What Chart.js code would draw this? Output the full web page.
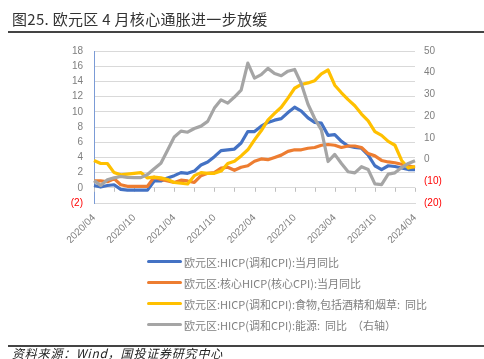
<!DOCTYPE html>
<html><head><meta charset="utf-8">
<script src="https://cdn.jsdelivr.net/npm/chart.js@4.4.0/dist/chart.umd.min.js"></script>
<style>
html,body{margin:0;padding:0;background:#fff;}
#wrap{position:relative;width:484px;height:359px;overflow:hidden;font-family:"Noto Sans CJK SC","Noto Sans",sans-serif;background:#fff;}
#c{position:absolute;left:0;top:0;}
#title{position:absolute;left:12px;top:8px;font-size:15px;color:#333;letter-spacing:0.3px;white-space:pre;line-height:22px;}
#tline{position:absolute;left:8px;right:0;top:31px;height:2px;background:#444;}
#legend{position:absolute;left:147px;top:251px;}
.li{display:flex;align-items:center;height:21px;font-size:11px;color:#7f7f7f;white-space:pre;}
.sw{width:35px;height:3px;border-radius:2px;margin-right:2px;flex:none;}
#fline{position:absolute;left:8px;right:0;top:345px;height:2px;background:#444;}
#foot{position:absolute;left:12px;top:346px;font-size:12px;font-style:italic;color:#222;letter-spacing:0.8px;white-space:nowrap;line-height:14px;}
</style>
</head><body>
<div id="wrap">
<canvas id="c" width="484" height="359"></canvas>
<div id="title">图25. 欧元区 4 月核心通胀进一步放缓</div>
<div id="tline"></div>
<div id="legend"></div>
<div id="fline"></div>
<div id="foot">资料来源：Wind，国投证券研究中心</div>
</div>
<script>
const months = ["2020/04","2020/05","2020/06","2020/07","2020/08","2020/09","2020/10","2020/11","2020/12",
"2021/01","2021/02","2021/03","2021/04","2021/05","2021/06","2021/07","2021/08","2021/09","2021/10","2021/11","2021/12",
"2022/01","2022/02","2022/03","2022/04","2022/05","2022/06","2022/07","2022/08","2022/09","2022/10","2022/11","2022/12",
"2023/01","2023/02","2023/03","2023/04","2023/05","2023/06","2023/07","2023/08","2023/09","2023/10","2023/11","2023/12",
"2024/01","2024/02","2024/03","2024/04"];

const headline = [0.3,0.1,0.3,0.4,-0.2,-0.3,-0.3,-0.3,-0.3,
0.9,0.9,1.3,1.6,2.0,1.9,2.2,3.0,3.4,4.1,4.9,5.0,
5.1,5.9,7.4,7.4,8.1,8.6,8.9,9.1,9.9,10.6,10.1,9.2,
8.6,8.5,6.9,7.0,6.1,5.5,5.3,5.2,4.3,2.9,2.4,2.9,
2.8,2.6,2.4,2.4];

const core = [0.9,0.9,0.8,1.2,0.4,0.2,0.2,0.2,0.2,
1.4,1.1,0.9,0.7,1.0,0.9,0.7,1.6,1.9,2.0,2.6,2.7,
2.3,2.7,2.9,3.5,3.8,3.7,4.0,4.3,4.8,5.0,5.0,5.2,
5.3,5.6,5.7,5.6,5.3,5.5,5.5,5.3,4.5,4.2,3.6,3.4,
3.3,3.1,2.9,2.7];

const food = [3.6,3.2,3.2,2.0,1.7,1.8,1.9,2.0,1.3,
1.4,1.3,1.1,0.7,0.6,0.5,1.6,2.0,1.9,1.9,2.2,3.2,
3.5,4.2,5.0,6.3,7.5,8.9,9.8,10.6,11.8,13.1,13.6,13.8,
14.1,15.0,15.5,13.5,12.5,11.6,10.8,9.7,8.8,7.4,6.9,6.1,
5.6,3.6,2.6,2.8];

const energy = [-9.7,-11.9,-9.3,-8.4,-7.8,-8.2,-8.3,-8.3,-6.9,
-4.2,-1.7,4.3,10.4,13.1,12.6,14.3,15.4,17.6,23.7,27.5,26.0,
28.8,32.0,44.4,37.5,39.1,42.0,39.6,38.6,40.7,41.5,34.9,25.5,
18.9,13.7,-0.9,2.4,-1.8,-5.6,-6.1,-3.3,-4.6,-11.2,-11.5,-6.7,
-6.1,-3.7,-1.8,-0.5];

const seriesNames = ["欧元区:HICP(调和CPI):当月同比",
"欧元区:核心HICP(核心CPI):当月同比",
"欧元区:HICP(调和CPI):食物,包括酒精和烟草:  同比",
"欧元区:HICP(调和CPI):能源:  同比  （右轴）"];
const seriesColors = ["#4472C4","#ED7D31","#FFC000","#A5A5A5"];

const fmt = v => v < 0 ? "(" + (-v) + ")" : String(v);
const tickColor = c => c.tick.value < 0 ? "#FF0000" : "#7F7F7F";

const zeroTicks = {
  id: "zeroTicks",
  beforeDatasetsDraw(chart) {
    const x = chart.scales.x, y = chart.scales.y;
    const y0 = y.getPixelForValue(0);
    const ctx = chart.ctx;
    ctx.save();
    ctx.strokeStyle = "#BFBFBF";
    ctx.lineWidth = 1;
    ctx.beginPath();
    for (let i = 0; i < months.length; i += 3) {
      const px = Math.round(x.getPixelForValue(i)) + 0.5;
      ctx.moveTo(px, y0);
      ctx.lineTo(px, y0 + 4);
    }
    ctx.stroke();
    ctx.restore();
  }
};

const mk = (i, data, axis, order) => ({
  label: seriesNames[i], data, yAxisID: axis, order,
  borderColor: seriesColors[i], backgroundColor: seriesColors[i],
  borderWidth: 3.2, pointRadius: 0, tension: 0, fill: false,
  borderJoinStyle: "round"
});

new Chart(document.getElementById("c"), {
  type: "line",
  data: {
    labels: months,
    datasets: [
      mk(0, headline, "y", 4),
      mk(1, core, "y", 3),
      mk(2, food, "y", 2),
      mk(3, energy, "y1", 1)
    ]
  },
  options: {
    responsive: false,
    animation: false,
    devicePixelRatio: 1,
    layout: { padding: { top: 51, bottom: 116, left: 0, right: 0 } },
    plugins: { legend: { display: false }, tooltip: { enabled: false } },
    scales: {
      x: {
        offset: false,
        grid: { display: false, drawTicks: false },
        border: { display: true, color: "#D9D9D9", width: 1 },
        ticks: {
          autoSkip: false, minRotation: 45, maxRotation: 45, padding: 9,
          color: "#7F7F7F", font: { family: "Liberation Sans", size: 10 },
          callback: (v, i) => i % 6 === 0 ? months[i] : ""
        },
        afterFit: s => { s.height = 40; }
      },
      y: {
        position: "left", min: -2, max: 18,
        grid: { color: "#D9D9D9", lineWidth: 1, drawTicks: false },
        border: { display: true, color: "#7B9BD6", width: 1 },
        ticks: { stepSize: 2, padding: 11, color: tickColor,
          font: { family: "Liberation Sans", size: 10 }, callback: v => fmt(v) },
        afterFit: s => { s.width = 94; }
      },
      y1: {
        position: "right", min: -20, max: 50,
        grid: { display: false, drawTicks: false },
        border: { display: false },
        ticks: { stepSize: 10, padding: 9, color: tickColor,
          font: { family: "Liberation Sans", size: 10 }, callback: v => fmt(v) },
        afterFit: s => { s.width = 69; }
      }
    }
  },
  plugins: [zeroTicks]
});

const lg = document.getElementById("legend");
seriesNames.forEach((n, i) => {
  const d = document.createElement("div");
  d.className = "li";
  const sw = document.createElement("span");
  sw.className = "sw"; sw.style.background = seriesColors[i];
  const t = document.createElement("span");
  t.textContent = n;
  d.appendChild(sw); d.appendChild(t);
  lg.appendChild(d);
});
</script>
</body></html>
